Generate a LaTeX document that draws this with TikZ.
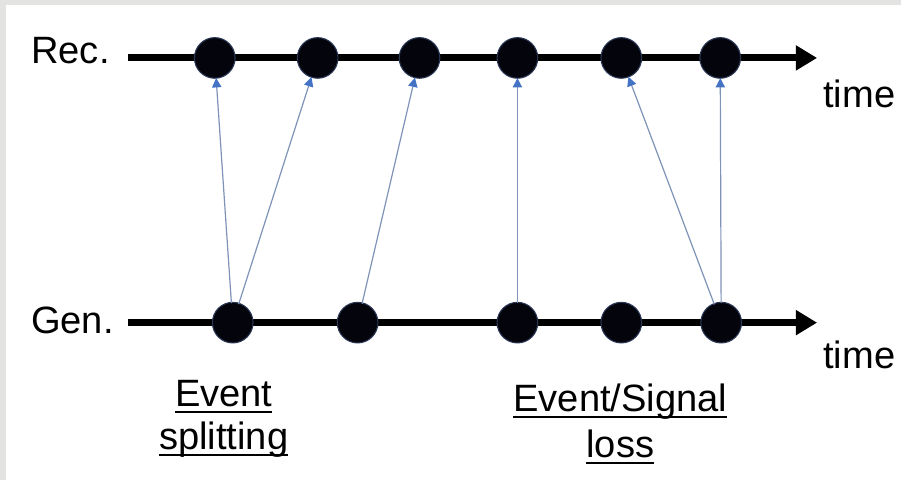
\documentclass[tikz,border=0pt]{standalone}
\usepackage{fontspec}
\setmainfont{Liberation Sans}
\usetikzlibrary{arrows.meta}
\definecolor{bggray}{HTML}{E3E3E1}
\definecolor{dotfill}{HTML}{04040C}
\definecolor{dotedge}{HTML}{2A3856}
\definecolor{arrline}{HTML}{7F93B8}
\definecolor{arrtip}{HTML}{4472C4}
\newcommand\myul[1]{\setbox0\hbox{#1}\rlap{\rule[-4.8pt]{\wd0}{1.5pt}}\box0}
\tikzset{
  dot/.style={circle,fill=dotfill,draw=dotedge,line width=0.8pt,minimum size=30.5pt,inner sep=0pt},
  axis/.style={line width=5.2pt,-{Triangle[length=16pt,width=18pt]}},
  link/.style={draw=arrline,line width=0.9pt,-{Triangle[length=7pt,width=7pt,color=arrtip]},shorten >=-0.5pt,shorten <=-1pt},
  lbl/.style={font=\fontsize{28.6}{34}\selectfont,inner sep=0pt}
}
\begin{document}
\begin{tikzpicture}[x=0.75pt,y=-0.75pt]
\fill[bggray] (0,0) rectangle (902,481);
\fill[white] (6,5) rectangle (903,482);
\useasboundingbox (0,0) rectangle (902,481);
% axis labels
\node[lbl,anchor=base east] (rec) at (110,64) {Rec.};
\node[lbl,anchor=base east] (gen) at (114,334) {Gen.};
\coordinate (rs) at (128,58);
\coordinate (re) at (818,58);
\coordinate (gs) at (128,323);
\coordinate (ge) at (818,323);
\draw[axis] (rs) -- (re);
\draw[axis] (gs) -- (ge);
\node[lbl,anchor=base west] (t1) at (824,108) {time};
\node[lbl,anchor=base west] (t2) at (824,369) {time};
% received events
\node[dot] (r1) at (215,58) {};
\node[dot] (r2) at (318,58) {};
\node[dot] (r3) at (420,58) {};
\node[dot] (r4) at (518,58) {};
\node[dot] (r5) at (622,58) {};
\node[dot] (r6) at (721,58) {};
% generated events
\node[dot] (g1) at (233,323) {};
\node[dot] (g2) at (358,323) {};
\node[dot] (g3) at (518,323) {};
\node[dot] (g4) at (622,323) {};
\node[dot] (g5) at (722,323) {};
% links
\draw[link] (g1) -- (r1);
\draw[link] (g1) -- (r2);
\draw[link] (g2) -- (r3);
\draw[link] (g3) -- (r4);
\draw[link] (g5) -- (r5);
\draw[link] (g5) -- (r6);
% captions
\node[lbl,anchor=base] (c1a) at (224,407) {\myul{Event}};
\node[lbl,anchor=base] (c1b) at (224,450) {\myul{splitting}};
\node[lbl,anchor=base] (c2a) at (621,412) {\myul{Event/Signal}};
\node[lbl,anchor=base] (c2b) at (621,458) {\myul{loss}};
\end{tikzpicture}
\end{document}
